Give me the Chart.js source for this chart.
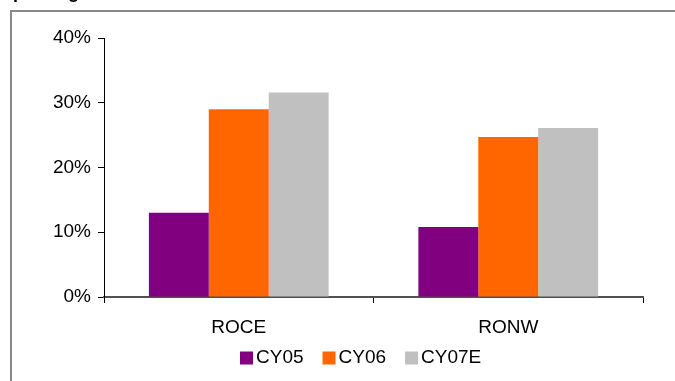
<!DOCTYPE html>
<html>
<head>
<meta charset="utf-8">
<script src="https://cdn.jsdelivr.net/npm/chart.js@4"></script>
<style>
  html, body { margin: 0; padding: 0; background: #ffffff; overflow: hidden; }
  #wrap { position: relative; width: 675px; height: 381px; }
</style>
</head>
<body>
<div id="wrap"><canvas id="c" width="675" height="381"></canvas></div>
<script>
// Return ratios by year (percent)
const categories = ['ROCE', 'RONW'];
const seriesNames = ['CY05', 'CY06', 'CY07E'];
const cy05 = [13.0, 10.8];
const cy06 = [29.0, 24.7];
const cy07e = [31.6, 26.1];
const yTicks = [0, 10, 20, 30, 40];
const titleText = 'Improving return ratios';

const colors = ['#800080', '#FF6600', '#C0C0C0'];
const FONT = "'Liberation Sans', Arial, sans-serif";

// Frame lines, cut-off heading and a legend drawn under the axis
const decor = {
  id: 'decor',
  beforeDraw(chart) {
    const ctx = chart.ctx;
    ctx.save();
    ctx.fillStyle = '#ffffff';
    ctx.fillRect(0, 0, chart.width, chart.height);
    ctx.fillStyle = '#888888';
    ctx.fillRect(10, 10, chart.width - 10, 2);
    ctx.fillRect(10, 10, 2, chart.height - 10);
    ctx.fillStyle = '#000000';
    ctx.font = 'bold 18px ' + FONT;
    ctx.textAlign = 'left';
    ctx.textBaseline = 'alphabetic';
    ctx.fillText(titleText, -8, -2.5);
    ctx.restore();
  },
  afterDraw(chart) {
    const ctx = chart.ctx;
    ctx.save();
    ctx.font = '19px ' + FONT;
    ctx.textAlign = 'left';
    ctx.textBaseline = 'middle';
    let x = 240;
    const yMid = 358;
    chart.data.datasets.forEach((ds) => {
      ctx.fillStyle = ds.backgroundColor;
      ctx.fillRect(x, yMid - 6.5, 13, 13);
      ctx.fillStyle = '#000000';
      ctx.fillText(ds.label, x + 16, yMid);
      x += 16 + ctx.measureText(ds.label).width + 19;
    });
    ctx.restore();
  }
};

new Chart(document.getElementById('c'), {
  type: 'bar',
  data: {
    labels: categories,
    datasets: [
      { label: seriesNames[0], data: cy05, backgroundColor: colors[0] },
      { label: seriesNames[1], data: cy06, backgroundColor: colors[1] },
      { label: seriesNames[2], data: cy07e, backgroundColor: colors[2] }
    ]
  },
  options: {
    responsive: false,
    animation: false,
    devicePixelRatio: 1,
    layout: { padding: { left: 0, right: 32, top: 38, bottom: 0 } },
    datasets: { bar: { categoryPercentage: 0.667, barPercentage: 1.0, borderWidth: 0 } },
    plugins: {
      legend: { display: false },
      tooltip: { enabled: false }
    },
    scales: {
      x: {
        afterFit(scale) { scale.height = 84; },
        grid: { display: true, offset: true, drawOnChartArea: false, tickLength: 6, tickColor: '#000000', tickWidth: 1 },
        border: { display: true, color: '#505050', width: 2 },
        ticks: { color: '#000000', font: { family: FONT, size: 19 }, padding: 13 }
      },
      y: {
        min: 0,
        max: 40,
        afterFit(scale) { scale.width = 104; },
        afterBuildTicks(scale) { scale.ticks = yTicks.map(v => ({ value: v })); },
        grid: { display: true, drawOnChartArea: false, tickLength: 6, tickColor: '#000000', tickWidth: 1 },
        border: { display: true, color: '#000000', width: 1 },
        ticks: {
          color: '#000000',
          font: { family: FONT, size: 19 },
          padding: 7,
          callback: (v) => v + '%'
        }
      }
    }
  },
  plugins: [decor]
});
</script>
</body>
</html>
